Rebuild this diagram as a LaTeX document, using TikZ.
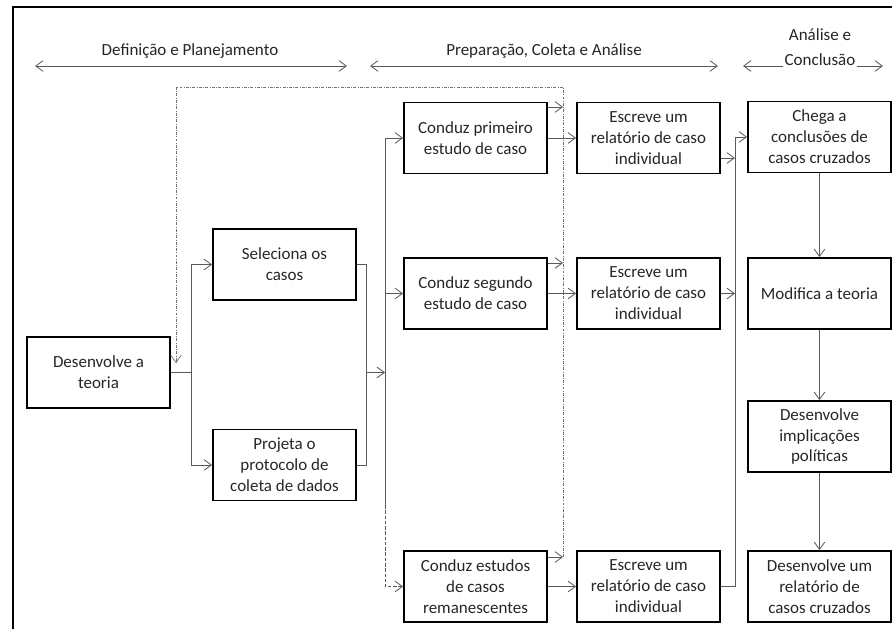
\documentclass[tikz,border=0pt]{standalone}
\usepackage{fontspec}
\setmainfont{Carlito}
\usepackage{tikz}
\usetikzlibrary{arrows.meta,calc}

\begin{document}
\begin{tikzpicture}[x=0.03cm,y=-0.03cm,>={Straight Barb[length=2.2mm,width=3.2mm]}]
\tikzstyle{stage}=[rectangle,draw=black,line width=1.6pt,minimum width=4.29cm,minimum height=2.13cm,inner sep=2pt,align=center,text=black!85,font=\fontsize{14.5}{17.9}\selectfont]
\tikzstyle{flow}=[draw=black!65,line width=0.7pt]
\tikzstyle{back}=[draw=black!55,line width=0.6pt,dash pattern=on 2.5pt off 1.2pt on 0.6pt off 1.2pt]
\tikzstyle{phase}=[align=center,fill=white,inner sep=1pt,text=black!85,font=\fontsize{14.5}{21.3}\selectfont]

\useasboundingbox (0,0) rectangle (892,629);
\draw[line width=1.5pt] (892,7) -- (13,7) -- (13,629);

% Phases on top
\coordinate (P1L) at (35,66);
\coordinate (P1R) at (347,66);
\coordinate (P2L) at (370,66);
\coordinate (P2R) at (718,66);
\coordinate (P3L) at (743,66);
\coordinate (P3R) at (883,66);
\draw[flow,<->] (P1L) -- (P1R);
\draw[flow,<->] (P2L) -- (P2R);
\draw[flow,<->] (P3L) -- (P3R);
\node (PH1) [phase] at (190,51) {Definição e Planejamento};
\node (PH2) [phase] at (544,51) {Preparação, Coleta e Análise};
\node (PH3) [phase] at (820,47.5) {Análise e\\Conclusão};

% Definition and planning
\node (DEVT) [stage] at (98.5,372.5) {Desenvolve a\\teoria};
\node (SELC) [stage] at (284.5,264.5) {Seleciona os\\casos};
\node (PROJ) [stage] at (284.5,465) {Projeta o\\protocolo de\\coleta de dados};

% Preparation, collection and analysis
\node (COND1) [stage] at (475.5,138) {Conduz primeiro\\estudo de caso};
\node (COND2) [stage] at (475.5,293.5) {Conduz segundo\\estudo de caso};
\node (COND3) [stage] at (475.5,586.5) {Conduz estudos\\de casos\\remanescentes};
\node (ESCR1) [stage] at (648.5,138) {Escreve um\\relatório de caso\\individual};
\node (ESCR2) [stage] at (648.5,293.5) {Escreve um\\relatório de caso\\individual};
\node (ESCR3) [stage] at (648.5,586.5) {Escreve um\\relatório de caso\\individual};

% Analysis and conclusion
\node (CHEG) [stage] at (819.5,137) {Chega a\\conclusões de\\casos cruzados};
\node (MODT) [stage] at (819.5,293.5) {Modifica a teoria};
\node (DIMP) [stage] at (819.5,436.5) {Desenvolve\\implicações\\políticas};
\node (DREL) [stage] at (819.5,586.5) {Desenvolve um\\relatório de\\casos cruzados};

% Theory to planning
\coordinate (J1) at (191,372.5);
\draw[flow] (DEVT.east) -- (J1);
\draw[flow,->] (J1) |- (SELC.west);
\draw[flow,->] (J1) |- (PROJ.west);

% Planning to the cases
\coordinate (J2) at (366,372.5);
\coordinate (T1) at (385,372.5);
\coordinate (T2) at (385,505);
\draw[flow] (SELC.east) -| (J2);
\draw[flow] (PROJ.east) -| (J2);
\draw[flow,->] (J2) -- (T1);
\draw[flow,->] (T1) |- (COND1.west);
\draw[flow,->] (T1) |- (COND2.west);
\draw[flow] (T1) -- (T2);
\draw[flow,->,dash pattern=on 3pt off 1.5pt] (T2) |- (COND3.west);

% Feedback loop back to the theory
\coordinate (F1) at (563,107);
\coordinate (F2) at (563,263);
\coordinate (F3) at (563,557);
\coordinate (FT) at (563,87);
\coordinate (FL) at (176,87);
\coordinate (FE) at (176,363);
\draw[flow,->] (COND1.east |- F1) -- (F1);
\draw[flow,->] (COND2.east |- F2) -- (F2);
\draw[flow,->] (COND3.east |- F3) -- (F3);
\draw[back,->] (F3) -- (FT) -- (FL) -- (FE);

% Cases to reports
\draw[flow,->] (COND1) -- (ESCR1);
\draw[flow,->] (COND2) -- (ESCR2);
\draw[flow,->] (COND3) -- (ESCR3);

% Reports to the cross-case conclusions
\coordinate (K1) at (735,158);
\coordinate (K2) at (735,293.5);
\coordinate (K3) at (735,586.5);
\draw[flow,->] (ESCR1.east |- K1) -- (K1);
\draw[flow,->] (ESCR2.east) -- (K2);
\draw[flow,->] (ESCR3.east) -- (K3) |- (CHEG.west);

\draw[flow,->] (CHEG) -- (MODT);
\draw[flow,->] (MODT) -- (DIMP);
\draw[flow,->] (DIMP) -- (DREL);

\end{tikzpicture}
\end{document}
